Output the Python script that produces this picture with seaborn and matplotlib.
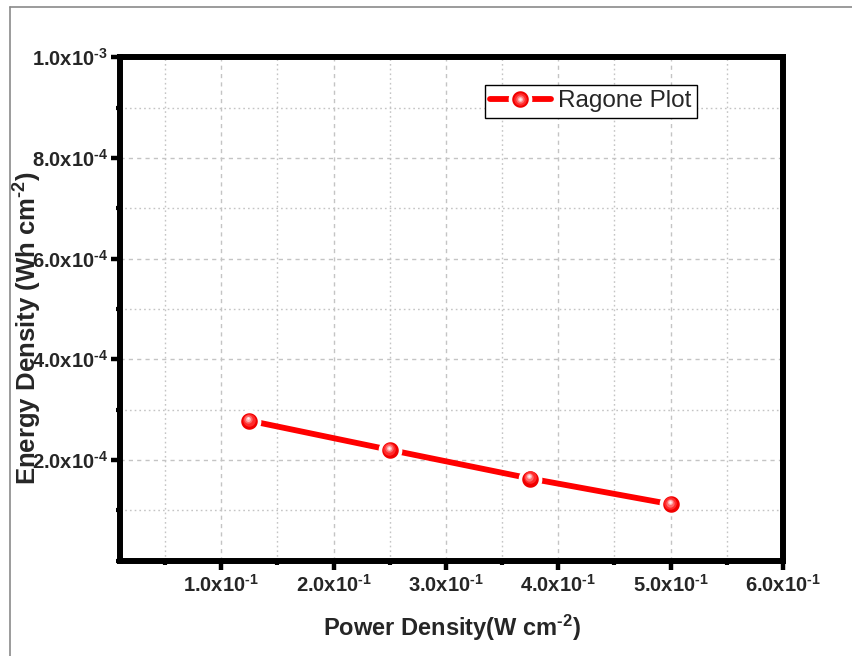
import matplotlib
matplotlib.use("Agg")
import matplotlib.pyplot as plt
import matplotlib.transforms as mtransforms
from matplotlib.lines import Line2D
from matplotlib.ticker import MultipleLocator, FixedLocator, FixedFormatter
import seaborn as sns
import pandas as pd

# Ragone data: power density (W cm^-2) vs energy density (Wh cm^-2)
power_density = [0.125, 0.25, 0.375, 0.5]
energy_density = [2.78e-4, 2.20e-4, 1.63e-4, 1.12e-4]
series_label = "Ragone Plot"

HY = "\u2010"  # short hyphen for the exponents
x_ticks = [0.1, 0.2, 0.3, 0.4, 0.5, 0.6]
x_tick_labels = [rf"$\mathbf{{{m}.0x10^{{{HY}1}}}}$" for m in ["1", "2", "3", "4", "5", "6"]]
y_ticks = [2e-4, 4e-4, 6e-4, 8e-4, 1e-3]
y_tick_labels = [rf"$\mathbf{{2.0x10^{{{HY}4}}}}$", rf"$\mathbf{{4.0x10^{{{HY}4}}}}$",
                 rf"$\mathbf{{6.0x10^{{{HY}4}}}}$", rf"$\mathbf{{8.0x10^{{{HY}4}}}}$",
                 rf"$\mathbf{{1.0x10^{{{HY}3}}}}$"]

sns.set_theme(style="white")
plt.rcParams["font.family"] = ["Liberation Sans", "DejaVu Sans"]
plt.rcParams["mathtext.fontset"] = "custom"
plt.rcParams["mathtext.rm"] = "Liberation Sans"
plt.rcParams["mathtext.it"] = "Liberation Sans:italic"
plt.rcParams["mathtext.bf"] = "Liberation Sans:bold"

df = pd.DataFrame({"power": power_density, "energy": energy_density})

fig = plt.figure(figsize=(8.53, 6.56), dpi=100)
ax = fig.add_axes([0.1407, 0.1455, 0.7773, 0.7672])

sns.lineplot(data=df, x="power", y="energy", ax=ax, color="#ff0000",
             linewidth=4.2, marker="o", markersize=14.5, markerfacecolor="#f00000",
             markeredgecolor="white", markeredgewidth=2.6, legend=False, zorder=3)
main_line = ax.lines[-1]

# glossy shading on each sphere marker: stacked, lighter, slightly shifted dots
shade_layers = []
for size, colour, dx, dy in [(9.0, "#ff2a2a", -0.4, 0.8), (6.0, "#ff6a6a", -0.6, 1.2),
                             (3.6, "#ffb4b4", -0.7, 1.5), (1.8, "#fff0f0", -0.7, 1.6)]:
    shift = mtransforms.ScaledTranslation(dx / 72, dy / 72, fig.dpi_scale_trans)
    layer, = ax.plot(power_density, energy_density, linestyle="none", marker="o",
                     markersize=size, markerfacecolor=colour, markeredgewidth=0,
                     transform=ax.transData + shift, zorder=4)
    shade_layers.append(layer)

ax.set_xlim(0.01, 0.6)
ax.set_ylim(0, 1e-3)

ax.xaxis.set_major_locator(FixedLocator(x_ticks))
ax.xaxis.set_major_formatter(FixedFormatter(x_tick_labels))
ax.xaxis.set_minor_locator(MultipleLocator(0.05))
ax.yaxis.set_major_locator(FixedLocator(y_ticks))
ax.yaxis.set_major_formatter(FixedFormatter(y_tick_labels))
ax.yaxis.set_minor_locator(MultipleLocator(1e-4))

ax.grid(True, which="major", color="#c4c4c4", linestyle=(0, (3, 3)), linewidth=1.0)
ax.grid(True, which="minor", color="#c4c4c4", linestyle=(0, (1.2, 2.2)), linewidth=1.0)
ax.set_axisbelow(True)

for side in ["left", "right", "top", "bottom"]:
    ax.spines[side].set_visible(True)
    ax.spines[side].set_color("black")
    ax.spines[side].set_linewidth(4.3)

ax.tick_params(axis="both", which="major", direction="out", length=6.5, width=3.2,
               color="black", labelsize=14.5, pad=3, bottom=True, left=True)
ax.tick_params(axis="both", which="minor", direction="out", length=3, width=3.0,
               color="black", bottom=True, left=True)
ax.tick_params(axis="y", which="major", pad=2)

ax.set_xlabel(rf"Power Density(W cm$^{{\mathbf{{{HY}2}}}}$)", fontsize=17, fontweight="bold",
              labelpad=12)
ax.set_ylabel(rf"Energy Density (Wh cm$^{{\mathbf{{{HY}2}}}}$)", fontsize=18.5,
              fontweight="bold")
ax.yaxis.set_label_coords(-0.139, 0.462)
ax.yaxis.label.set_va("center")

leg = ax.legend([tuple([main_line] + shade_layers)], [series_label], loc="upper right",
                bbox_to_anchor=(0.870, 0.945), borderaxespad=0, fontsize=17.5,
                frameon=True, fancybox=False, shadow=False, handlelength=2.5,
                handletextpad=0.3, borderpad=0.22)
leg.get_frame().set_edgecolor("black")
leg.get_frame().set_linewidth(1.0)
leg.get_frame().set_facecolor("white")
leg.get_frame().set_alpha(1.0)

# thin grey page border along the top and left edges
fig.add_artist(Line2D([10 / 853, 10 / 853], [0, 1 - 7 / 656], transform=fig.transFigure,
                      color="#8a8a8a", linewidth=1.2))
fig.add_artist(Line2D([10 / 853, 1], [1 - 7 / 656, 1 - 7 / 656], transform=fig.transFigure,
                      color="#8a8a8a", linewidth=1.2))

fig.savefig("out.png", dpi=100)
